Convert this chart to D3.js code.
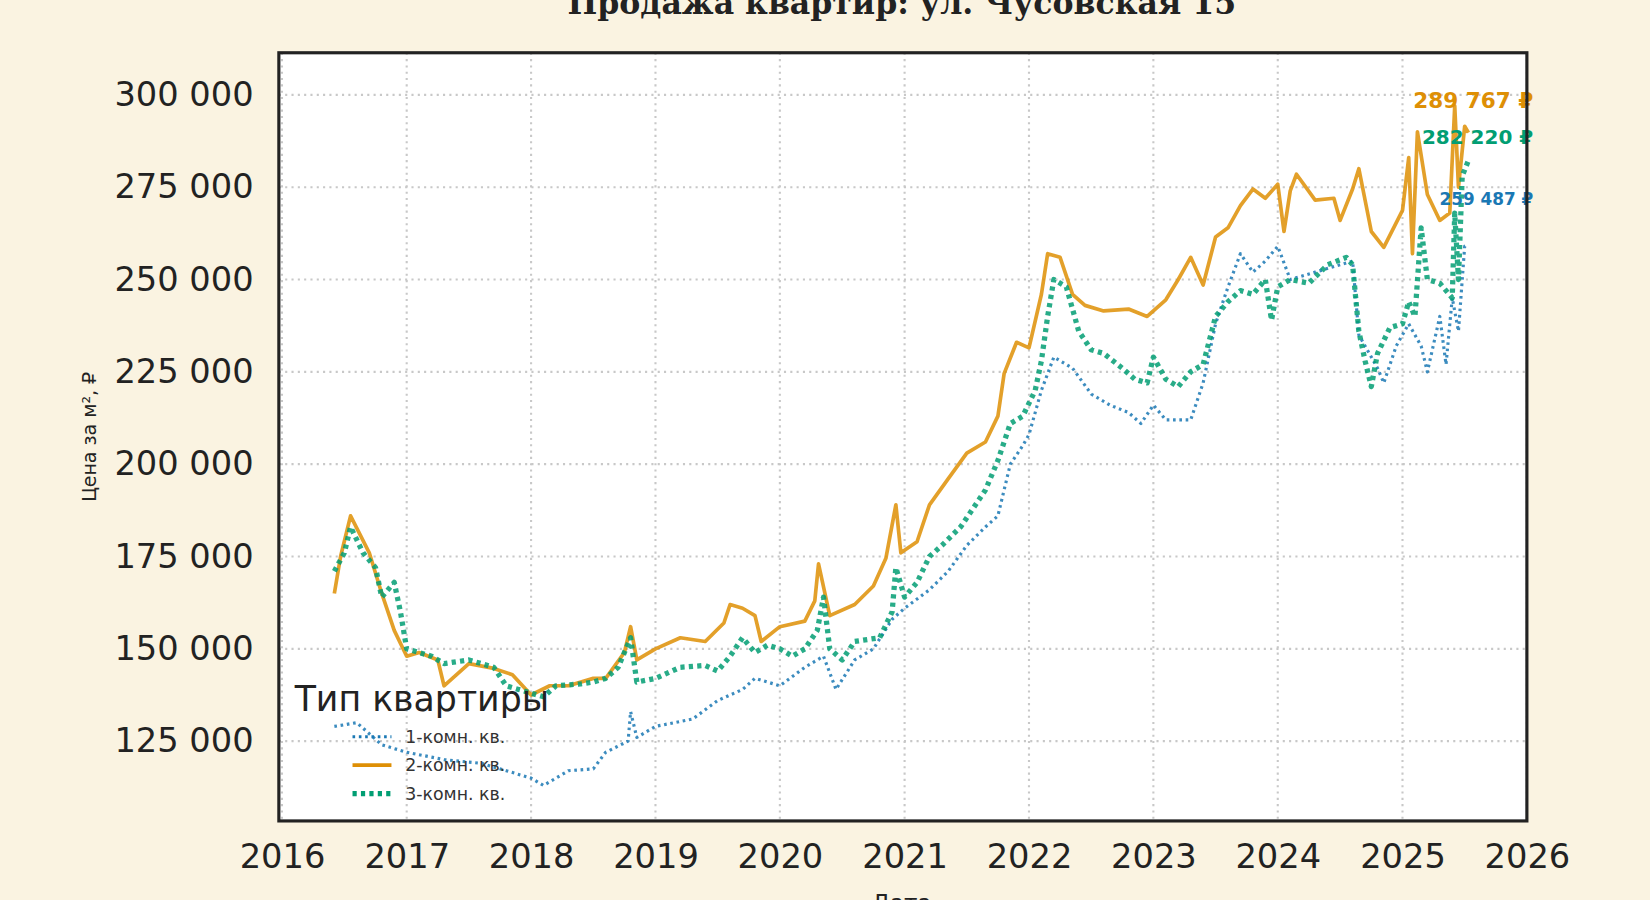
<!DOCTYPE html>
<html lang="ru">
<head>
<meta charset="UTF-8">
<title>Продажа квартир</title>
<script src="https://d3js.org/d3.v7.min.js"></script>
<style>
  body { margin: 0; background: #faf3e1; }
  svg { display: block; }
</style>
</head>
<body>
<svg width="1650" height="900" viewBox="0 0 1568 855"></svg>
<script>
// data (dates as decimal years)
const oneDates = [2016.42,2016.6,2016.8,2017.0,2017.3,2017.6,2017.8,2018.0,2018.1,2018.3,2018.5,2018.6,2018.78,2018.8,2018.85,2019.0,2019.3,2019.5,2019.7,2019.8,2020.0,2020.2,2020.35,2020.45,2020.6,2020.75,2020.9,2021.0,2021.2,2021.35,2021.5,2021.65,2021.75,2021.85,2021.95,2022.0,2022.1,2022.2,2022.35,2022.5,2022.65,2022.8,2022.9,2023.0,2023.1,2023.3,2023.4,2023.5,2023.6,2023.7,2023.8,2023.9,2024.0,2024.1,2024.3,2024.5,2024.6,2024.65,2024.8,2024.85,2024.95,2025.05,2025.15,2025.2,2025.3,2025.35,2025.4,2025.45,2025.5,2025.53];
const oneVals  = [129000,130000,124000,122000,120000,119000,117000,115000,113000,117000,117500,122000,125000,133000,126000,129000,131000,136000,139000,142000,140000,145000,148000,139000,147000,150000,158000,161000,166000,171000,178000,183000,186000,200000,205000,208000,220000,229000,226000,219000,216000,214000,211000,216000,212000,212000,222000,238000,248000,257000,252000,255000,259000,250000,252000,254000,255000,235000,226000,222000,232000,238000,232000,225000,240000,227000,245000,236000,259000,259487];

const twoDates = [2016.42,2016.47,2016.55,2016.7,2016.8,2016.9,2017.0,2017.1,2017.25,2017.3,2017.5,2017.7,2017.85,2018.0,2018.15,2018.3,2018.5,2018.6,2018.75,2018.8,2018.85,2019.0,2019.2,2019.4,2019.55,2019.6,2019.7,2019.8,2019.85,2020.0,2020.2,2020.28,2020.31,2020.4,2020.6,2020.75,2020.85,2020.93,2020.97,2021.1,2021.2,2021.35,2021.5,2021.65,2021.75,2021.8,2021.9,2022.0,2022.1,2022.15,2022.25,2022.35,2022.45,2022.6,2022.8,2022.95,2023.1,2023.2,2023.3,2023.4,2023.5,2023.6,2023.7,2023.8,2023.9,2024.0,2024.05,2024.1,2024.15,2024.3,2024.45,2024.5,2024.6,2024.65,2024.75,2024.85,2025.0,2025.05,2025.08,2025.12,2025.2,2025.3,2025.38,2025.42,2025.45,2025.5,2025.53];
const twoVals  = [165000,175000,186000,176000,165000,155000,148000,149000,147000,140000,146000,144700,143000,137500,140000,140000,142000,142000,149000,156000,147000,150000,153000,152000,157000,162000,161000,159000,152000,156000,157500,163000,173000,159000,162000,167000,174500,189000,176000,179000,189000,196000,203000,206000,213000,224500,233000,231500,246000,257000,256000,246000,243000,241500,242000,240000,244500,250000,256000,248500,261500,264000,270000,274500,272000,275800,263000,274000,278500,271500,272000,266000,274500,280000,263000,258700,268700,283000,257000,290000,273000,266000,268000,297000,275000,291500,289767];

const threeDates = [2016.42,2016.5,2016.55,2016.65,2016.75,2016.8,2016.9,2016.95,2017.0,2017.2,2017.3,2017.5,2017.7,2017.8,2017.9,2018.0,2018.1,2018.2,2018.4,2018.5,2018.6,2018.7,2018.8,2018.85,2019.0,2019.2,2019.4,2019.5,2019.6,2019.7,2019.8,2019.9,2020.0,2020.1,2020.2,2020.3,2020.35,2020.4,2020.5,2020.6,2020.8,2020.9,2020.93,2021.0,2021.1,2021.2,2021.3,2021.45,2021.55,2021.65,2021.75,2021.85,2021.95,2022.05,2022.1,2022.15,2022.2,2022.3,2022.35,2022.4,2022.5,2022.6,2022.75,2022.85,2022.95,2023.0,2023.1,2023.2,2023.3,2023.4,2023.5,2023.6,2023.7,2023.8,2023.9,2023.95,2024.0,2024.1,2024.25,2024.4,2024.55,2024.6,2024.65,2024.7,2024.75,2024.8,2024.9,2025.0,2025.05,2025.1,2025.15,2025.2,2025.3,2025.4,2025.42,2025.45,2025.48,2025.53];
const threeVals  = [171000,176000,183000,176000,172000,164000,168000,160000,150000,148000,146000,147000,145000,140000,139000,138000,137000,140000,140500,141000,142000,145000,153000,141000,142000,145000,145500,144000,148000,153000,149000,151000,150000,148000,150000,155000,164000,150000,147000,152000,153000,160000,172000,164000,168000,175000,178000,183000,188000,193000,201000,211000,213000,220000,228000,240000,250000,248000,242000,236000,231000,230000,226000,223000,222000,229000,223000,221000,225000,227000,240000,244000,247000,246000,250000,239000,248000,250000,249000,254000,256000,254000,236000,228000,221000,230000,237000,238000,244000,240000,264000,250000,249000,245000,268000,250000,278000,282220];

const seriesNames = ["1-комн. кв.", "2-комн. кв.", "3-комн. кв."];
const yTicks = [125000,150000,175000,200000,225000,250000,275000,300000];
const xTicks = [2016,2017,2018,2019,2020,2021,2022,2023,2024,2025,2026];

// styles
const colors = ["#1a78b4", "#de8f05", "#029e73"];
const dashes = ["2.5,3.5", null, "4,4"];
const widths = [3, 3.5, 5];
const labelFont = [16, 20.5, 19];
const labelShift = [-42, -29, -21];

const svg = d3.select("svg");
const m = {left: 265, right: 1451, top: 50, bottom: 780};

const toDate = y => {
  const yr = Math.floor(y);
  const s = new Date(yr, 0, 1), e = new Date(yr + 1, 0, 1);
  return new Date(+s + (y - yr) * (e - s));
};

const x = d3.scaleTime().domain([toDate(2015.975), toDate(2026)]).range([m.left, m.right]);
const y = d3.scaleLinear().domain([103400, 311400]).range([m.bottom, m.top]);

svg.append("rect").attr("width", 1568).attr("height", 855).attr("fill", "#faf3e1");
svg.append("rect").attr("x", m.left).attr("y", m.top)
  .attr("width", m.right - m.left).attr("height", m.bottom - m.top).attr("fill", "#fff");

// grid
const grid = svg.append("g").attr("stroke", "#c8c8c8").attr("stroke-width", 2).attr("stroke-dasharray", "2,4");
grid.selectAll(".gx").data(xTicks).join("line")
  .attr("x1", d => x(toDate(d))).attr("x2", d => x(toDate(d)))
  .attr("y1", m.top).attr("y2", m.bottom);
grid.selectAll(".gy").data(yTicks).join("line")
  .attr("x1", m.left).attr("x2", m.right)
  .attr("y1", d => y(d)).attr("y2", d => y(d));

const fmt = v => d3.format(",")(v).replace(/,/g, " ");

// axes
svg.append("g").attr("transform", `translate(${m.left},0)`)
  .call(d3.axisLeft(y).tickValues(yTicks).tickFormat(fmt).tickSize(0).tickPadding(24))
  .call(g => g.select(".domain").remove())
  .selectAll("text").attr("font-family", "DejaVu Sans").attr("font-size", 32).attr("fill", "#222");

svg.append("g").attr("transform", `translate(0,${m.bottom})`)
  .call(d3.axisBottom(x).tickValues(xTicks.map(toDate)).tickFormat(d3.timeFormat("%Y")).tickSize(0).tickPadding(22))
  .call(g => g.select(".domain").remove())
  .selectAll("text").attr("font-family", "DejaVu Sans").attr("font-size", 32).attr("fill", "#222");

// lines
const series = [[oneDates, oneVals], [twoDates, twoVals], [threeDates, threeVals]];
const line = d3.line().x(d => x(d[0])).y(d => y(d[1]));
const plot = svg.append("g");
series.forEach(([ds, vs], i) => {
  const pts = ds.map((d, j) => [toDate(d), vs[j]]);
  plot.append("path").datum(pts)
    .attr("fill", "none").attr("stroke", colors[i]).attr("stroke-width", widths[i])
    .attr("stroke-dasharray", dashes[i]).attr("stroke-opacity", 0.85)
    .attr("stroke-linejoin", "round").attr("d", line);
});

// end labels
series.forEach(([ds, vs], i) => {
  const last = vs[vs.length - 1];
  svg.append("text")
    .attr("x", m.right + 6).attr("y", y(last) + labelShift[i])
    .attr("text-anchor", "end").attr("dominant-baseline", "middle")
    .attr("font-family", "DejaVu Sans").attr("font-weight", "bold")
    .attr("font-size", labelFont[i]).attr("fill", colors[i])
    .text(fmt(last) + " ₽");
});

// frame
svg.append("rect").attr("x", m.left).attr("y", m.top)
  .attr("width", m.right - m.left).attr("height", m.bottom - m.top)
  .attr("fill", "none").attr("stroke", "#222").attr("stroke-width", 3);

// legend
const lg = svg.append("g").attr("font-family", "DejaVu Sans");
lg.append("text").attr("x", 280).attr("y", 676).attr("font-size", 33).attr("fill", "#222").text("Тип квартиры");
seriesNames.forEach((n, i) => {
  const ly = 700 + i * 27;
  lg.append("line").attr("x1", 335).attr("x2", 372).attr("y1", ly).attr("y2", ly)
    .attr("stroke", colors[i]).attr("stroke-width", widths[i]).attr("stroke-dasharray", dashes[i]);
  lg.append("text").attr("x", 385).attr("y", ly + 6).attr("font-size", 16.5).attr("fill", "#333").text(n);
});

// titles
svg.append("text").attr("x", 857).attr("y", 13).attr("text-anchor", "middle")
  .attr("font-family", "DejaVu Serif").attr("font-weight", "bold").attr("font-size", 30).attr("fill", "#222")
  .text("Продажа квартир: ул. Чусовская 15");
svg.append("text").attr("x", 857).attr("y", 866).attr("text-anchor", "middle")
  .attr("font-family", "DejaVu Sans").attr("font-size", 22).attr("fill", "#222").text("Дата");
svg.append("text").attr("transform", "translate(91,415) rotate(-90)").attr("text-anchor", "middle")
  .attr("font-family", "DejaVu Sans").attr("font-size", 18).attr("fill", "#222").text("Цена за м², ₽");
</script>
</body>
</html>
